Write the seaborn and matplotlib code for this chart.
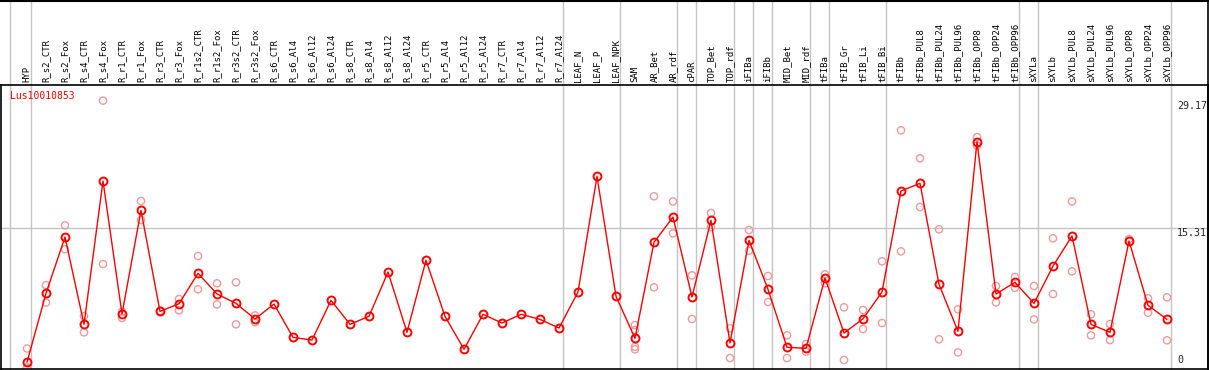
import matplotlib

matplotlib.use("Agg")
import matplotlib.pyplot as plt
import matplotlib.transforms as mtransforms
import pandas as pd
import seaborn as sns

categories = [
    "HYP", "R_s2_CTR", "R_s2_Fox", "R_s4_CTR", "R_s4_Fox", "R_r1_CTR", "R_r1_Fox",
    "R_r3_CTR", "R_r3_Fox", "R_r1s2_CTR", "R_r1s2_Fox", "R_r3s2_CTR", "R_r3s2_Fox",
    "R_s6_CTR", "R_s6_Al4", "R_s6_Al12", "R_s6_Al24", "R_s8_CTR", "R_s8_Al4",
    "R_s8_Al12", "R_s8_Al24", "R_r5_CTR", "R_r5_Al4", "R_r5_Al12", "R_r5_Al24",
    "R_r7_CTR", "R_r7_Al4", "R_r7_Al12", "R_r7_Al24", "LEAF_N", "LEAF_P", "LEAF_NPK",
    "SAM", "AR_Bet", "AR_rdf", "cPAR", "TOP_Bet", "TOP_rdf", "iFIBa", "iFIBb",
    "MID_Bet", "MID_rdf", "tFIBa", "tFIB_Gr", "tFIB_Li", "tFIB_Bi", "tFIBb",
    "tFIBb_PUL8", "tFIBb_PUL24", "tFIBb_PUL96", "tFIBb_OPP8", "tFIBb_OPP24",
    "tFIBb_OPP96", "sXYLa", "sXYLb", "sXYLb_PUL8", "sXYLb_PUL24", "sXYLb_PUL96",
    "sXYLb_OPP8", "sXYLb_OPP24", "sXYLb_OPP96",
]

mean_values = [
    0.70, 8.20, 14.33, 4.83, 20.42, 5.95, 17.23, 6.24, 7.07, 10.38, 8.13, 7.11, 5.41,
    7.04, 3.41, 3.12, 7.44, 4.83, 5.70, 10.52, 3.96, 11.80, 5.70, 2.11, 5.92,
    4.97, 5.92, 5.37, 4.43, 8.35, 20.93, 7.88,
    3.31, 13.75, 16.50, 7.80, 16.15, 2.80, 13.97, 8.64, 2.33, 2.22, 9.87, 3.88,
    5.44, 8.35, 19.34, 20.17, 9.18, 4.07, 24.70, 8.13, 9.40,
    7.11, 11.17, 14.44, 4.83, 3.96, 13.90, 6.90, 5.37,
]

replicates = [
    [2.2, 0.15, 0.0], [9.1, 7.2], [15.6, 13.0], [5.73, 3.96], [29.17, 11.39],
    [6.2, 5.52], [18.25, 16.18], [6.3], [7.58, 6.35], [12.26, 8.64], [9.29, 7.0],
    [9.4, 4.83], [5.8, 5.05], [], [], [], [], [], [], [], [], [], [], [], [],
    [], [], [], [], [], [], [],
    [4.75, 4.21, 2.39, 2.11], [18.76, 8.86], [18.2, 14.73], [10.16, 5.41],
    [16.94, 15.39], [4.4, 1.16], [15.09, 12.84], [10.09, 7.26], [3.63, 1.16],
    [2.69, 1.85], [10.27, 9.29], [6.68, 0.95], [6.39, 4.32], [11.69, 4.97],
    [25.94, 12.77], [22.89, 17.6], [15.17, 3.2], [6.46, 1.78], [25.21, 24.27],
    [9.0, 7.22], [9.98, 8.81], [9.0, 5.37], [14.19, 8.13], [18.21, 10.6],
    [5.92, 3.63], [4.86, 3.12], [14.11], [7.66, 6.09], [7.77, 3.09],
]

group_ends = [
    "HYP", "R_r7_Al24", "LEAF_NPK", "AR_rdf", "cPAR", "TOP_rdf", "iFIBa", "iFIBb",
    "MID_rdf", "tFIBa", "tFIB_Bi", "tFIBb_OPP96", "sXYLa", "sXYLb_OPP96",
]

y_ticks = [29.17, 15.31, 0]
gene = "Lus10010853"

RED = "#ff0000"
PALE = "#ee9a9a"
GRID = "#c4c4c4"
MONO = "DejaVu Sans Mono"

mean_df = pd.DataFrame({"pos": range(len(categories)), "value": mean_values})
rep_df = pd.DataFrame(
    [(i, v) for i, reps in enumerate(replicates) for v in reps], columns=["pos", "value"]
)

sns.set_style("white")
plt.rcParams["font.family"] = [MONO, "DejaVu Sans"]

W, H = 1209, 370
fig = plt.figure(figsize=(W / 100, H / 100), dpi=100)
# plot box: x 1..1208 px, y 85..369 px (from top)
ax = fig.add_axes([1 / W, 1 / H, 1207 / W, 284 / H])

step = 19.0
ax.set_xlim((1 - 27) / step, (1208 - 27) / step)
ax.set_ylim(-0.03, 30.87)

# separators between tissue groups, running up into the header
ext = 369 / 284
seps = [-0.9] + [categories.index(c) + 0.19 for c in group_ends]
for s in seps:
    ax.axvline(s, ymin=0, ymax=ext, color=GRID, lw=1, clip_on=False, zorder=0)
ax.axhline(y_ticks[1], color=GRID, lw=1, zorder=0)

sns.scatterplot(
    data=rep_df, x="pos", y="value", ax=ax, marker="o", s=27,
    facecolor="none", edgecolor=PALE, linewidth=1.0, zorder=2, legend=False,
)
sns.lineplot(
    data=mean_df, x="pos", y="value", ax=ax, color=RED, lw=1.0, marker="o",
    markersize=5.7, markerfacecolor="none", markeredgecolor=RED,
    markeredgewidth=1.4, zorder=3, legend=False,
)

# rotated category labels in the header
trans = mtransforms.blended_transform_factory(ax.transData, ax.transAxes)
for i, name in enumerate(categories):
    ax.text(i, 1 + 3 / 284, name, transform=trans, rotation=90, ha="center",
            va="bottom", fontsize=6.5, color="black", clip_on=False)

ax.text(9 / 1207, 1 - 6 / 284, gene, transform=ax.transAxes, color=RED,
        fontsize=7, ha="left", va="top")

# value labels on the right
xr = (1177 - 27) / step
ax.text(xr, y_ticks[0], "29.17", fontsize=7.2, ha="left", va="top")
ax.text(xr, y_ticks[1], "15.31", fontsize=7.2, ha="left", va="top")
ax.text(xr, 0.4, "0", fontsize=7.2, ha="left", va="bottom")

ax.set_xticks([])
ax.set_yticks([])
ax.set_xlabel("")
ax.set_ylabel("")
for sp in ax.spines.values():
    sp.set_color("black")
    sp.set_linewidth(1.2)

# outer frame lines of the header
fig.add_artist(plt.Line2D([0, 1], [1 - 0.5 / H, 1 - 0.5 / H], color="black", lw=1.5))
fig.add_artist(plt.Line2D([1 - 1 / W, 1 - 1 / W], [0, 1], color="black", lw=1.2))

fig.savefig("out.png", dpi=100)
